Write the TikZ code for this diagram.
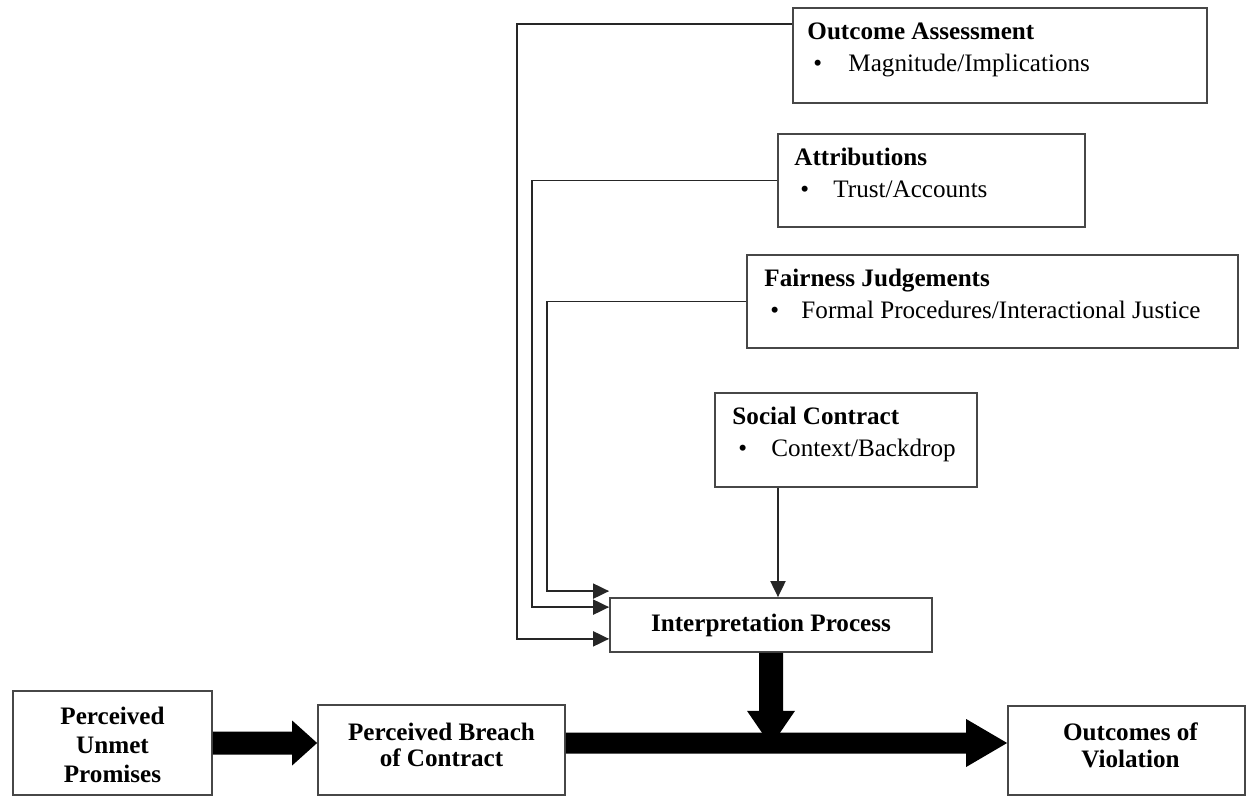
\documentclass[tikz,border=0pt]{standalone}
\usepackage{fontspec}
\setmainfont{Liberation Serif}
\usetikzlibrary{calc,arrows.meta}
\begin{document}
\begin{tikzpicture}[x=0.02cm,y=-0.02cm,
  box/.style={draw=black!72,line width=1pt,rectangle,inner sep=0pt},
  txt/.style={inner sep=0pt,anchor=base west,font=\fontsize{14.3}{17}\selectfont},
  ttl/.style={txt,font=\fontsize{14.3}{17}\selectfont\bfseries},
  ctr/.style={inner sep=0pt,align=center,font=\fontsize{14.3}{14}\selectfont\bfseries},
  conn/.style={draw=black!85,line width=1.1pt,-{Triangle[length=0.32cm,width=0.3cm]}},
  fat/.style={fill=black}]
\useasboundingbox (0,0) rectangle (1252,797);
% boxes
\node[box,minimum width=0.02*414cm,minimum height=0.02*95cm] (oa) at (1000,55.5) {};
\node[box,minimum width=0.02*307cm,minimum height=0.02*93cm] (at) at (931.5,180.5) {};
\node[box,minimum width=0.02*491cm,minimum height=0.02*93cm] (fj) at (992.5,301.5) {};
\node[box,minimum width=0.02*262cm,minimum height=0.02*94cm] (sc) at (846,440) {};
\node[box,minimum width=0.02*322cm,minimum height=0.02*54cm] (ip) at (771,625) {};
\node[box,minimum width=0.02*199cm,minimum height=0.02*104cm] (up) at (112.5,743) {};
\node[box,minimum width=0.02*247cm,minimum height=0.02*90cm] (pb) at (441.5,750) {};
\node[box,minimum width=0.02*237cm,minimum height=0.02*89cm] (ov) at (1126.5,750.5) {};
% box texts
\node[ttl] (oat) at ($(oa.north west)+(15,32)$) {Outcome Assessment};
\node[txt] (oab) at ($(oa.north west)+(21,64)$) {•};
\node[txt] (oal) at ($(oa.north west)+(56,64)$) {Magnitude/Implications};
\node[ttl] (att) at ($(at.north west)+(17,32)$) {Attributions};
\node[txt] (atb) at ($(at.north west)+(23,64)$) {•};
\node[txt] (atl) at ($(at.north west)+(56,64)$) {Trust/Accounts};
\node[ttl] (fjt) at ($(fj.north west)+(18,32)$) {Fairness Judgements};
\node[txt] (fjb) at ($(fj.north west)+(24,64)$) {•};
\node[txt] (fjl) at ($(fj.north west)+(55,64)$) {Formal Procedures/Interactional Justice};
\node[ttl] (sct) at ($(sc.north west)+(18,32)$) {Social Contract};
\node[txt] (scb) at ($(sc.north west)+(24,64)$) {•};
\node[txt] (scl) at ($(sc.north west)+(57,64)$) {Context/Backdrop};
\node[ctr] (ipt) at (ip) {Interpretation Process};
\node[ctr] (upt) at ($(up)+(0,2)$) {Perceived\\[2.5pt]Unmet\\[2.5pt]Promises};
\node[ctr] (pbt) at ($(pb)+(0,-5)$) {Perceived Breach\\[1pt]of Contract};
\node[ctr] (ovt) at ($(ov)+(4,-5)$) {Outcomes of\\[1pt]Violation};
% thin connectors
\coordinate (oas) at ($(oa.north west)+(0,17)$);
\coordinate (oae) at ($(ip.south west)+(0,-14)$);
\draw[conn] (oas) -- ++(-275,0) |- (oae);
\coordinate (ate) at ($(ip.north west)+(0,10)$);
\draw[conn] (at.west) -- ++(-245,0) |- (ate);
\coordinate (fje) at ($(ip.north west)+(0,-6)$);
\draw[conn] (fj.west) -- ++(-199,0) |- (fje);
\coordinate (sce) at ($(ip.north)+(7,0)$);
\draw[conn] (sc.south -| sce) -- (sce);
% thick arrows
\coordinate (a1e) at (up.east -| pb.west);
\fill[fat] ($(up.east)+(0,-11.5)$) -- ($(a1e)+(-25,-11.5)$) -- ($(a1e)+(-25,-22.5)$) -- (a1e)
  -- ($(a1e)+(-25,22.5)$) -- ($(a1e)+(-25,11.5)$) -- ($(up.east)+(0,11.5)$) -- cycle;
\coordinate (a2s) at (pb.east |- up.east);
\coordinate (a2e) at (ov.west |- up.east);
\fill[fat] ($(a2s)+(0,-10.5)$) -- ($(a2e)+(-41,-10.5)$) -- ($(a2e)+(-41,-24)$) -- (a2e)
  -- ($(a2e)+(-41,24)$) -- ($(a2e)+(-41,10.5)$) -- ($(a2s)+(0,10.5)$) -- cycle;
\coordinate (a3e) at ($(ip.south)+(0,93)$);
\fill[fat] ($(ip.south)+(-12,0)$) -- ($(a3e)+(-12,-35)$) -- ($(a3e)+(-24,-35)$) -- (a3e)
  -- ($(a3e)+(24,-35)$) -- ($(a3e)+(12,-35)$) -- ($(ip.south)+(12,0)$) -- cycle;
\end{tikzpicture}
\end{document}
